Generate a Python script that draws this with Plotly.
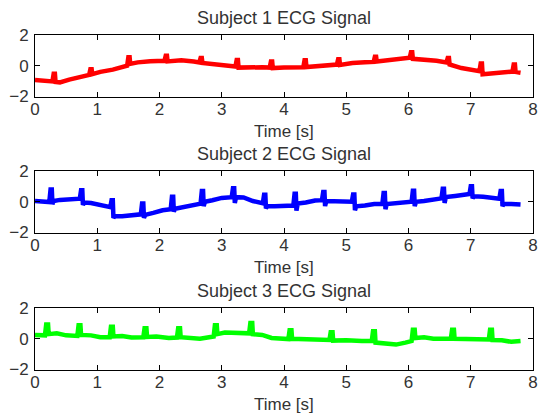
import plotly.graph_objects as go

# ---------------- data ----------------
titles = ["Subject 1 ECG Signal", "Subject 2 ECG Signal", "Subject 3 ECG Signal"]
x_label = "Time [s]"
x_ticks = [0, 1, 2, 3, 4, 5, 6, 7, 8]
y_ticks = [-2, 0, 2]
colors = ["#ff0000", "#0000ff", "#00ff00"]

t1 = [0.00, 0.15, 0.28, 0.30, 0.32, 0.33, 0.40, 0.55, 0.75, 0.87, 0.89, 0.91, 0.92,
      1.05, 1.25, 1.48, 1.50, 1.52, 1.53, 1.65, 1.85, 2.08, 2.10, 2.12, 2.13, 2.35,
      2.55, 2.64, 2.66, 2.68, 2.69, 2.85, 3.05, 3.22, 3.24, 3.26, 3.27, 3.45, 3.65,
      3.77, 3.79, 3.81, 3.82, 4.00, 4.20, 4.31, 4.33, 4.35, 4.36, 4.55, 4.75, 4.85,
      4.87, 4.89, 4.90, 5.10, 5.30, 5.44, 5.46, 5.48, 5.49, 5.70, 5.90, 6.02, 6.04,
      6.06, 6.07, 6.25, 6.45, 6.61, 6.63, 6.65, 6.66, 6.85, 7.00, 7.14, 7.16, 7.18,
      7.19, 7.35, 7.50, 7.67, 7.69, 7.71, 7.72, 7.80]
v1 = [-0.92, -0.98, -1.02, -0.52, -0.52, -1.05, -1.08, -0.90, -0.72, -0.60, -0.22, -0.22, -0.55,
      -0.40, -0.25, 0.00, 0.55, 0.55, 0.12, 0.22, 0.30, 0.32, 0.65, 0.65, 0.28, 0.35,
      0.28, 0.22, 0.50, 0.50, 0.18, 0.10, 0.02, -0.05, 0.38, 0.38, -0.12, -0.08, -0.10,
      -0.12, 0.28, 0.28, -0.15, -0.12, -0.12, -0.10, 0.35, 0.35, -0.08, -0.02, 0.05, 0.08,
      0.43, 0.43, 0.05, 0.18, 0.22, 0.25, 0.58, 0.58, 0.28, 0.38, 0.48, 0.52, 0.88,
      0.88, 0.45, 0.42, 0.32, 0.22, 0.50, 0.50, 0.08, -0.15, -0.28, -0.35, 0.15, 0.15,
      -0.55, -0.50, -0.50, -0.38, 0.08, 0.08, -0.40, -0.45]

t2 = [0.00, 0.12, 0.23, 0.25, 0.27, 0.28, 0.30, 0.40, 0.55, 0.72, 0.74, 0.76, 0.77, 0.79,
      0.90, 1.05, 1.21, 1.23, 1.25, 1.26, 1.28, 1.40, 1.55, 1.70, 1.72, 1.74, 1.75, 1.77,
      1.90, 2.05, 2.18, 2.20, 2.22, 2.23, 2.25, 2.40, 2.55, 2.66, 2.68, 2.70, 2.71, 2.73,
      2.85, 3.00, 3.16, 3.18, 3.20, 3.21, 3.23, 3.35, 3.50, 3.66, 3.68, 3.70, 3.71, 3.73,
      3.85, 4.00, 4.15, 4.17, 4.19, 4.20, 4.22, 4.35, 4.50, 4.61, 4.63, 4.65, 4.66, 4.68,
      4.80, 4.95, 5.09, 5.11, 5.13, 5.14, 5.16, 5.30, 5.45, 5.58, 5.60, 5.62, 5.63, 5.65,
      5.80, 5.95, 6.05, 6.07, 6.09, 6.10, 6.12, 6.25, 6.40, 6.53, 6.55, 6.57, 6.58, 6.60,
      6.75, 6.90, 6.98, 7.00, 7.02, 7.03, 7.05, 7.20, 7.35, 7.46, 7.48, 7.50, 7.51, 7.53,
      7.65, 7.80]
v2 = [0.05, 0.02, -0.02, 0.80, 0.80, -0.15, 0.05, 0.12, 0.18, 0.20, 0.74, 0.74, -0.20, -0.05,
      -0.08, -0.20, -0.35, 0.10, 0.10, -1.05, -0.95, -0.95, -0.90, -0.82, -0.12, -0.12, -1.05, -0.85,
      -0.72, -0.55, -0.48, 0.32, 0.32, -0.65, -0.45, -0.35, -0.20, -0.12, 0.70, 0.70, -0.28, 0.00,
      0.10, 0.25, 0.30, 0.87, 0.87, -0.08, 0.30, 0.28, 0.05, -0.10, 0.45, 0.45, -0.43, -0.30,
      -0.30, -0.25, -0.25, 0.52, 0.52, -0.58, -0.12, -0.05, 0.08, 0.10, 0.64, 0.64, -0.28, 0.05,
      0.05, 0.00, 0.00, 0.47, 0.47, -0.55, -0.30, -0.25, -0.15, -0.15, 0.57, 0.57, -0.48, -0.15,
      -0.10, -0.05, 0.00, 0.72, 0.72, -0.28, 0.00, 0.05, 0.15, 0.22, 0.84, 0.84, -0.08, 0.30,
      0.38, 0.45, 0.50, 1.00, 1.00, 0.22, 0.35, 0.32, 0.25, 0.20, 0.70, 0.70, -0.28, -0.15,
      -0.15, -0.18]

t3 = [0.00, 0.16, 0.18, 0.21, 0.22, 0.35, 0.50, 0.68, 0.70, 0.73, 0.74, 0.90, 1.05, 1.20,
      1.22, 1.25, 1.26, 1.40, 1.55, 1.74, 1.76, 1.79, 1.80, 1.95, 2.15, 2.28, 2.30, 2.33,
      2.34, 2.50, 2.65, 2.87, 2.89, 2.92, 2.93, 3.05, 3.25, 3.44, 3.46, 3.49, 3.50, 3.65,
      3.80, 4.07, 4.09, 4.12, 4.13, 4.30, 4.55, 4.73, 4.75, 4.78, 4.79, 5.00, 5.25, 5.41,
      5.43, 5.46, 5.47, 5.60, 5.80, 5.95, 6.05, 6.07, 6.10, 6.11, 6.25, 6.40, 6.68, 6.70,
      6.73, 6.74, 6.90, 7.10, 7.29, 7.31, 7.34, 7.35, 7.50, 7.65, 7.80]
v3 = [0.25, 0.22, 0.92, 0.92, 0.30, 0.35, 0.22, 0.18, 0.88, 0.88, 0.25, 0.22, 0.10, 0.10,
      0.78, 0.78, 0.15, 0.18, 0.08, 0.10, 0.68, 0.68, 0.12, 0.15, 0.05, 0.08, 0.68, 0.68,
      0.10, 0.05, 0.00, 0.15, 0.88, 0.88, 0.30, 0.40, 0.35, 0.35, 1.02, 1.02, 0.30, 0.25,
      0.05, -0.02, 0.55, 0.55, 0.00, -0.02, -0.08, -0.08, 0.43, 0.43, -0.12, -0.10, -0.15, -0.15,
      0.48, 0.48, -0.25, -0.28, -0.38, -0.25, -0.15, 0.58, 0.58, 0.05, 0.10, 0.00, 0.00, 0.58,
      0.58, 0.00, -0.02, -0.05, -0.05, 0.58, 0.58, -0.08, -0.10, -0.20, -0.15]

series = [(t1, v1), (t2, v2), (t3, v3)]

# ---------------- layout (pixel geometry of the reference) ----------------
W, H = 545, 415
left_px, right_px = 35, 533
tops_px = [35, 171, 308]
height_px = 61.5
font_family = "Liberation Sans, Arial, sans-serif"
text_color = "#333333"

fig = go.Figure()
for i, ((tt, vv), col) in enumerate(zip(series, colors)):
    n = i + 1
    fig.add_trace(go.Scatter(x=tt, y=vv, mode="lines",
                             line=dict(color=col, width=4.5),
                             xaxis="x" if n == 1 else f"x{n}",
                             yaxis="y" if n == 1 else f"y{n}",
                             showlegend=False, hoverinfo="skip"))

annotations = []
for i in range(3):
    n = i + 1
    top = tops_px[i]
    bot = top + height_px
    ydom = [1 - bot / H, 1 - top / H]
    xkey = "xaxis" if n == 1 else f"xaxis{n}"
    ykey = "yaxis" if n == 1 else f"yaxis{n}"
    fig.update_layout(**{
        xkey: dict(domain=[left_px / W, right_px / W], range=[0, 8],
                   tickvals=x_ticks, ticks="inside", ticklen=5, tickcolor="#000",
                   showline=True, linecolor="#000", linewidth=1, mirror="ticks",
                   showgrid=False, zeroline=False, anchor="y" if n == 1 else f"y{n}",
                   automargin=False,
                   tickfont=dict(size=17, color=text_color, family=font_family),
                   ticklabelstandoff=-3),
        ykey: dict(domain=ydom, range=[-2, 2], tickvals=y_ticks,
                   ticks="inside", ticklen=5, tickcolor="#000",
                   showline=True, linecolor="#000", linewidth=1, mirror="ticks",
                   showgrid=False, zeroline=False, anchor="x" if n == 1 else f"x{n}",
                   automargin=False,
                   tickfont=dict(size=17, color=text_color, family=font_family),
                   ticklabelstandoff=2),
    })
    annotations.append(dict(text=titles[i], xref="paper", yref="paper",
                            x=(left_px + right_px) / 2 / W, y=1 - (top - 17) / H,
                            xanchor="center", yanchor="middle", showarrow=False,
                            font=dict(size=18, color=text_color, family=font_family)))
    annotations.append(dict(text=x_label, xref="paper", yref="paper",
                            x=(left_px + right_px) / 2 / W, y=1 - (bot + 35) / H,
                            xanchor="center", yanchor="middle", showarrow=False,
                            font=dict(size=17, color=text_color, family=font_family)))

fig.update_layout(template="none", width=W, height=H,
                  margin=dict(l=0, r=0, t=0, b=0, autoexpand=False),
                  paper_bgcolor="white", plot_bgcolor="white",
                  annotations=annotations)

fig.write_html("out.html", config={"displayModeBar": False},
               post_script="document.body.style.margin='0';document.body.style.padding='0';")
